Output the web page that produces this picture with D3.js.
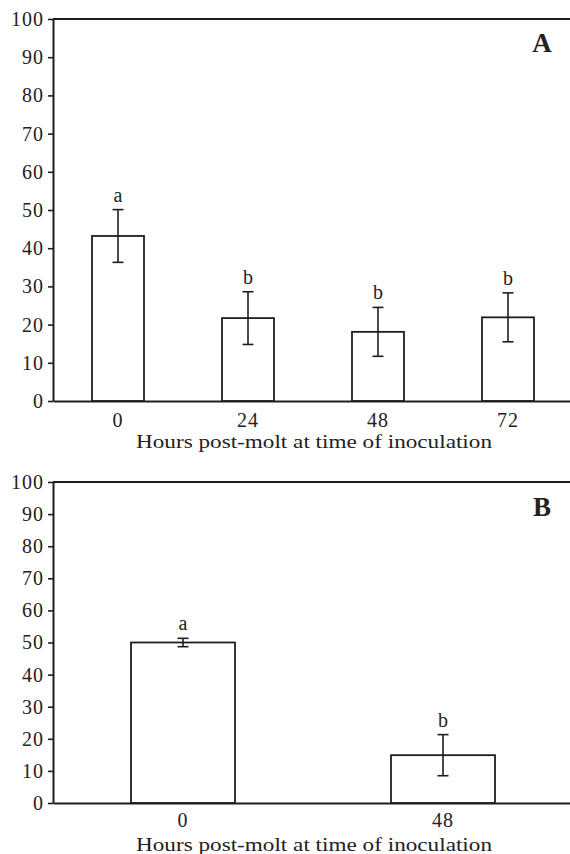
<!DOCTYPE html>
<html>
<head>
<meta charset="utf-8">
<script src="https://cdn.jsdelivr.net/npm/d3@7"></script>
<style>
  html, body { margin: 0; padding: 0; background: #fff; }
  svg { display: block; }
  text { font-family: "Liberation Serif", "Times New Roman", serif; fill: #222; }
</style>
</head>
<body>
<script>
// ---- Data ----
const yTicks = [0, 10, 20, 30, 40, 50, 60, 70, 80, 90, 100];
const xTitle = "Hours post-molt at time of inoculation";

const catsA = ["0", "24", "48", "72"];
const valsA = [43.2, 21.7, 18.1, 21.9];
const errsA = [6.9, 6.9, 6.4, 6.4];
const lettersA = ["a", "b", "b", "b"];

const catsB = ["0", "48"];
const valsB = [50.0, 14.9];
const errsB = [1.3, 6.4];
const lettersB = ["a", "b"];

// ---- Layout ----
const W = 570, H = 854;
const svg = d3.select("body").append("svg").attr("width", W).attr("height", H);
const ink = "#1e1e1e";

function panel(opts) {
  const { cats, vals, errs, letters, top, bottom, label, labelY, tickPad, titleY } = opts;
  const g = svg.append("g");
  const x = d3.scaleBand().domain(cats).range([53, 573]).paddingInner(0.6).paddingOuter(0.3);
  const y = d3.scaleLinear().domain([0, 100]).range([bottom, top]);

  // top frame line
  g.append("line")
    .attr("x1", 53).attr("x2", 573).attr("y1", y(100)).attr("y2", y(100))
    .attr("stroke", ink).attr("stroke-width", 2);

  // y axis
  const ya = g.append("g").attr("transform", "translate(53,0)")
    .call(d3.axisLeft(y).tickValues(yTicks).tickSize(5).tickSizeOuter(0).tickPadding(4));
  ya.select(".domain").attr("stroke", ink).attr("stroke-width", 2);
  ya.selectAll(".tick line").attr("stroke", ink).attr("stroke-width", 1.6);
  ya.selectAll(".tick text").style("font-size", "20px").attr("fill", "#222")
    .style("letter-spacing", "1px")
    .style("font-family", '"Liberation Serif", serif');

  // bars
  g.selectAll("rect.bar").data(cats).enter().append("rect")
    .attr("class", "bar")
    .attr("x", d => x(d))
    .attr("width", x.bandwidth())
    .attr("y", (d, i) => y(vals[i]))
    .attr("height", (d, i) => y(0) - y(vals[i]))
    .attr("fill", "#fff").attr("stroke", ink).attr("stroke-width", 1.8);

  // error bars
  const cap = 5.5;
  cats.forEach((c, i) => {
    const cx = x(c) + x.bandwidth() / 2;
    const hi = y(vals[i] + errs[i]), lo = y(vals[i] - errs[i]);
    g.append("line").attr("x1", cx).attr("x2", cx).attr("y1", hi).attr("y2", lo)
      .attr("stroke", ink).attr("stroke-width", 1.6);
    g.append("line").attr("x1", cx - cap).attr("x2", cx + cap).attr("y1", hi).attr("y2", hi)
      .attr("stroke", ink).attr("stroke-width", 1.6);
    g.append("line").attr("x1", cx - cap).attr("x2", cx + cap).attr("y1", lo).attr("y2", lo)
      .attr("stroke", ink).attr("stroke-width", 1.6);
    g.append("text").attr("x", cx).attr("y", hi - 8)
      .attr("text-anchor", "middle").style("font-size", "20px").text(letters[i]);
  });

  // x axis
  const xa = g.append("g").attr("transform", `translate(0,${bottom})`)
    .call(d3.axisBottom(x).tickSize(0).tickSizeOuter(0).tickPadding(tickPad));
  xa.select(".domain").attr("stroke", ink).attr("stroke-width", 2);
  xa.selectAll(".tick text").style("font-size", "20px").attr("fill", "#222")
    .style("letter-spacing", "1px")
    .style("font-family", '"Liberation Serif", serif');

  // x title
  g.append("text").attr("x", 314).attr("y", titleY)
    .attr("text-anchor", "middle").style("font-size", "19px")
    .attr("textLength", 356).attr("lengthAdjust", "spacingAndGlyphs")
    .text(xTitle);

  // panel label
  g.append("text").attr("x", 542).attr("y", labelY)
    .attr("text-anchor", "middle").style("font-size", "27px").style("font-weight", "bold")
    .attr("fill", "#111").text(label);
}

panel({ cats: catsA, vals: valsA, errs: errsA, letters: lettersA,
        top: 19, bottom: 401, label: "A", labelY: 52, tickPad: 12, titleY: 448 });
panel({ cats: catsB, vals: valsB, errs: errsB, letters: lettersB,
        top: 482, bottom: 803, label: "B", labelY: 516, tickPad: 10, titleY: 851 });
</script>
</body>
</html>
